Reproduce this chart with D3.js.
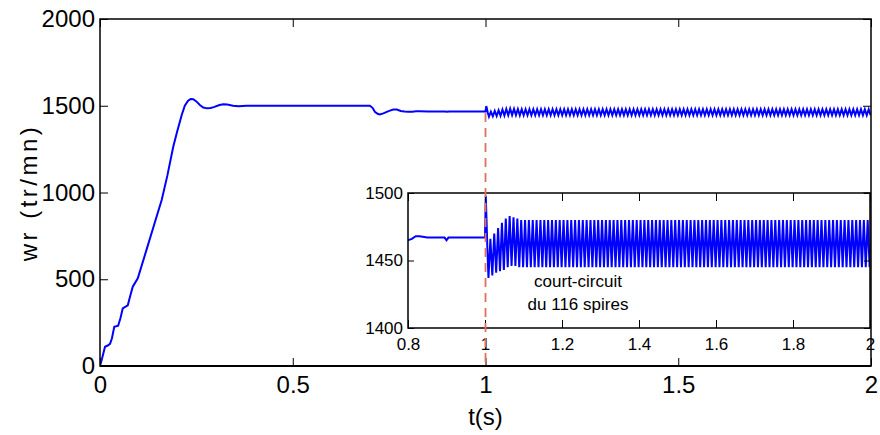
<!DOCTYPE html>
<meta charset="utf-8">
<html>
<head>
<script src="https://d3js.org/d3.v7.min.js"></script>
<style>
  body { margin: 0; background: #fff; }
</style>
</head>
<body>
<div id="chart"></div>
<script>
// rotor speed before the fault : t (s), wr (tr/mn)
var preT = [0, 0.005, 0.013, 0.02, 0.026, 0.031, 0.037, 0.047, 0.053, 0.059, 0.072, 0.078, 0.085, 0.098,
  0.12, 0.14, 0.16, 0.175, 0.19, 0.2, 0.212, 0.22, 0.228, 0.235, 0.242, 0.25, 0.259, 0.268, 0.278,
  0.287, 0.295, 0.31, 0.32, 0.33, 0.345, 0.36, 0.38, 0.45, 0.55, 0.65, 0.70, 0.707, 0.713, 0.72,
  0.726, 0.735, 0.744, 0.752, 0.761, 0.77, 0.78, 0.79, 0.80, 0.81, 0.82, 0.83, 0.85, 0.88, 0.895,
  0.90, 0.905, 0.93, 0.96, 0.99, 1.0];
var preW = [0, 40, 111, 118, 128, 160, 226, 232, 275, 332, 350, 400, 457, 505,
  665, 811, 957, 1100, 1264, 1350, 1447, 1500, 1528, 1539, 1538, 1525, 1504, 1490, 1485,
  1487, 1492, 1504, 1509, 1507, 1500, 1497, 1500, 1500, 1500, 1500, 1500, 1488, 1465, 1454,
  1450, 1456, 1465, 1472, 1478, 1478, 1470, 1467, 1465, 1466, 1468, 1468, 1467, 1467, 1467,
  1465, 1467, 1467, 1467, 1467, 1467];

// short-circuit transient right after t = 1 s
var faultT = [1.0, 1.002, 1.004, 1.006, 1.009];
var faultW = [1467, 1498, 1480, 1460, 1437];

// oscillation after the fault (100 Hz), peaks of the first cycles then steady band
var oscPeriod = 0.01;
var oscHi = [1466, 1470, 1474, 1478, 1481, 1483, 1482, 1481, 1480];
var oscLo = [1437, 1439, 1441, 1442, 1443, 1445, 1446, 1446, 1445];
var steadyHi = 1480;
var steadyLo = 1445;

var faultTime = 1;

var mainXTicks = [0, 0.5, 1, 1.5, 2];
var mainYTicks = [0, 500, 1000, 1500, 2000];
var insetXTicks = [0.8, 1, 1.2, 1.4, 1.6, 1.8, 2];
var insetYTicks = [1400, 1450, 1500];

var width = 880, height = 435;
var font = "'Liberation Sans', Arial, sans-serif";

var svg = d3.select("#chart").append("svg")
  .attr("width", width)
  .attr("height", height)
  .attr("font-family", font);

var x = d3.scaleLinear().domain([0, 2]).range([100, 871]);
var y = d3.scaleLinear().domain([0, 2000]).range([366, 19]);
var xi = d3.scaleLinear().domain([0.8, 2]).range([408, 870]);
var yi = d3.scaleLinear().domain([1400, 1500]).range([328, 193]);

// build the series
var data = preT.map(function(t, i) { return {t: t, w: preW[i]}; });
faultT.forEach(function(t, i) { if (i > 0) data.push({t: t, w: faultW[i]}); });
var t0 = faultT[faultT.length - 1];
var k = 0;
while (t0 + (k + 1) * oscPeriod <= 2.0001) {
  var hi = k < oscHi.length ? oscHi[k] : steadyHi;
  var lo = k + 1 < oscLo.length ? oscLo[k + 1] : steadyLo;
  data.push({t: t0 + k * oscPeriod + oscPeriod / 2, w: hi});
  data.push({t: t0 + (k + 1) * oscPeriod, w: lo});
  k++;
}

var defs = svg.append("defs");
defs.append("clipPath").attr("id", "clipMain").append("rect")
  .attr("x", x(0)).attr("y", y(2000)).attr("width", x(2) - x(0)).attr("height", y(0) - y(2000) + 2);
defs.append("clipPath").attr("id", "clipInset").append("rect")
  .attr("x", xi(0.8)).attr("y", yi(1500)).attr("width", xi(2) - xi(0.8)).attr("height", yi(1400) - yi(1500));

// main curve
svg.append("path")
  .datum(data)
  .attr("clip-path", "url(#clipMain)")
  .attr("fill", "none")
  .attr("stroke", "#0000ff")
  .attr("stroke-width", 2)
  .attr("d", d3.line().x(function(d) { return x(d.t); }).y(function(d) { return y(d.w); }));

function styleAxis(g, size) {
  g.attr("font-size", size).attr("font-family", font);
  g.select(".domain").remove();
  g.selectAll(".tick line").attr("stroke", "#000").attr("stroke-width", 1);
  g.selectAll(".tick text").attr("fill", "#000");
}

// main axes
svg.append("g").attr("transform", "translate(0," + y(0) + ")")
  .call(d3.axisBottom(x).tickValues(mainXTicks).tickFormat(d3.format("")).tickSizeInner(-8).tickSizeOuter(0).tickPadding(10))
  .call(styleAxis, 24);
svg.append("g").attr("transform", "translate(0," + y(2000) + ")")
  .call(d3.axisTop(x).tickValues(mainXTicks).tickFormat("").tickSizeInner(-8).tickSizeOuter(0))
  .call(styleAxis, 24);
svg.append("g").attr("transform", "translate(" + x(0) + ",0)")
  .call(d3.axisLeft(y).tickValues(mainYTicks).tickFormat(d3.format("")).tickSizeInner(-8).tickSizeOuter(0).tickPadding(5))
  .call(styleAxis, 24);
svg.append("g").attr("transform", "translate(" + x(2) + ",0)")
  .call(d3.axisRight(y).tickValues(mainYTicks).tickFormat("").tickSizeInner(-8).tickSizeOuter(0))
  .call(styleAxis, 24);

svg.append("rect")
  .attr("x", x(0)).attr("y", y(2000))
  .attr("width", x(2) - x(0)).attr("height", y(0) - y(2000))
  .attr("fill", "none").attr("stroke", "#000").attr("stroke-width", 1.5);
svg.append("line")
  .attr("x1", x(0)).attr("x2", x(2)).attr("y1", y(0)).attr("y2", y(0))
  .attr("stroke", "#000").attr("stroke-width", 2.2);

// axis titles
svg.append("text")
  .attr("x", x(1)).attr("y", 425)
  .attr("text-anchor", "middle")
  .attr("font-size", 24)
  .text("t(s)");
svg.append("text")
  .attr("transform", "translate(37," + ((y(0) + y(2000)) / 2) + ") rotate(-90)")
  .attr("text-anchor", "middle")
  .attr("font-size", 24)
  .attr("letter-spacing", 3.5)
  .text("wr (tr/mn)");

// inset
var inset = svg.append("g");
inset.append("rect")
  .attr("x", xi(0.8)).attr("y", yi(1500))
  .attr("width", xi(2) - xi(0.8)).attr("height", yi(1400) - yi(1500))
  .attr("fill", "#fff");
inset.append("path")
  .datum(data.filter(function(d) { return d.t >= 0.78; }))
  .attr("clip-path", "url(#clipInset)")
  .attr("fill", "none")
  .attr("stroke", "#0000ff")
  .attr("stroke-width", 2)
  .attr("d", d3.line().x(function(d) { return xi(d.t); }).y(function(d) { return yi(d.w); }));

inset.append("g").attr("transform", "translate(0," + yi(1400) + ")")
  .call(d3.axisBottom(xi).tickValues(insetXTicks).tickFormat(d3.format("")).tickSizeInner(-8).tickSizeOuter(0).tickPadding(10))
  .call(styleAxis, 17);
inset.append("g").attr("transform", "translate(0," + yi(1500) + ")")
  .call(d3.axisTop(xi).tickValues(insetXTicks).tickFormat("").tickSizeInner(-8).tickSizeOuter(0))
  .call(styleAxis, 17);
inset.append("g").attr("transform", "translate(" + xi(0.8) + ",0)")
  .call(d3.axisLeft(yi).tickValues(insetYTicks).tickFormat(d3.format("")).tickSizeInner(-6).tickSizeOuter(0).tickPadding(5))
  .call(styleAxis, 17);
inset.append("g").attr("transform", "translate(" + xi(2) + ",0)")
  .call(d3.axisRight(yi).tickValues(insetYTicks).tickFormat("").tickSizeInner(-6).tickSizeOuter(0))
  .call(styleAxis, 17);
inset.append("rect")
  .attr("x", xi(0.8)).attr("y", yi(1500))
  .attr("width", xi(2) - xi(0.8)).attr("height", yi(1400) - yi(1500))
  .attr("fill", "none").attr("stroke", "#000").attr("stroke-width", 1.5);

inset.append("text")
  .attr("x", 578).attr("y", 287)
  .attr("text-anchor", "middle").attr("font-size", 17)
  .text("court-circuit");
inset.append("text")
  .attr("x", 578).attr("y", 310)
  .attr("text-anchor", "middle").attr("font-size", 17)
  .text("du 116 spires");

// fault instant marker
svg.append("line")
  .attr("x1", x(faultTime)).attr("x2", x(faultTime))
  .attr("y1", y(1458)).attr("y2", y(0))
  .attr("stroke", "#e0705a")
  .attr("stroke-width", 1.8)
  .attr("stroke-dasharray", "9,6");
</script>
</body>
</html>
